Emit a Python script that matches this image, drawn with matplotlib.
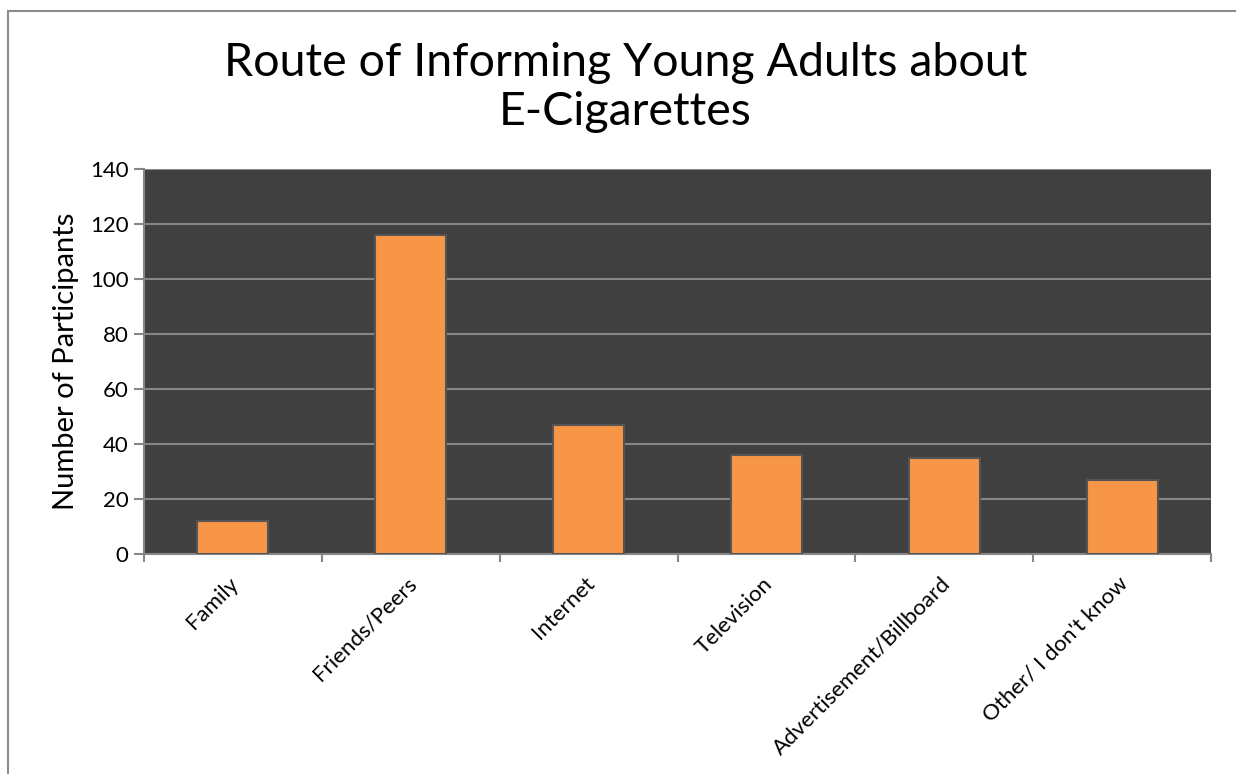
import matplotlib.pyplot as plt
from matplotlib.patches import Rectangle
import numpy as np

plt.rcParams['font.family'] = ['Lato', 'DejaVu Sans']

# survey answers
categories = ["Family", "Friends/Peers", "Internet", "Television",
              "Advertisement/Billboard", "Other/ I don't know"]
participants = [12, 116, 47, 36, 35, 27]
y_ticks = [0, 20, 40, 60, 80, 100, 120, 140]

fig = plt.figure(figsize=(12.36, 7.74), dpi=100)
ax = fig.add_axes([0.1165, 0.2842, 0.8633, 0.4975])

x = np.arange(len(categories))
ax.set_facecolor("#404040")
ax.bar(x, participants, width=0.4, color="#F79646", edgecolor="#555555",
       linewidth=1.5, zorder=3)

ax.set_xlim(-0.5, len(categories) - 0.5)
ax.set_ylim(0, 140)
ax.set_yticks(y_ticks)
ax.yaxis.grid(True, color="#868686", linewidth=1.5, zorder=1)
ax.tick_params(axis="y", labelsize=16, length=7, width=1.5, color="#868686",
               pad=4)

# category ticks sit on the boundaries, labels at bar centres
ax.set_xticks(np.arange(-0.5, len(categories)), minor=False)
ax.set_xticklabels([])
ax.tick_params(axis="x", length=6, width=1.5, color="#868686")
for i, lab in enumerate(categories):
    ax.annotate(lab, xy=(i, 0), xycoords=("data", "axes fraction"),
                xytext=(2, -19), textcoords="offset points",
                rotation=45, ha="right", va="center", rotation_mode="anchor",
                fontsize=16)

for side in ["top", "right"]:
    ax.spines[side].set_visible(False)
for side in ["left", "bottom"]:
    ax.spines[side].set_color("#868686")
    ax.spines[side].set_linewidth(1.5)

ax.set_ylabel("Number of Participants", fontsize=21, labelpad=8)

fig.text(0.506, 0.887, "Route of Informing Young Adults about\nE-Cigarettes",
         ha="center", va="center", fontsize=33.5, linespacing=1.2)

# outer chart border
fig.patches.append(Rectangle((8 / 1236, -0.1), 1.2, 1 - 11 / 774 + 0.1,
                             transform=fig.transFigure, fill=False,
                             edgecolor="#8c8c8c", linewidth=1.5))

fig.savefig("out.png", dpi=100, facecolor="white")
